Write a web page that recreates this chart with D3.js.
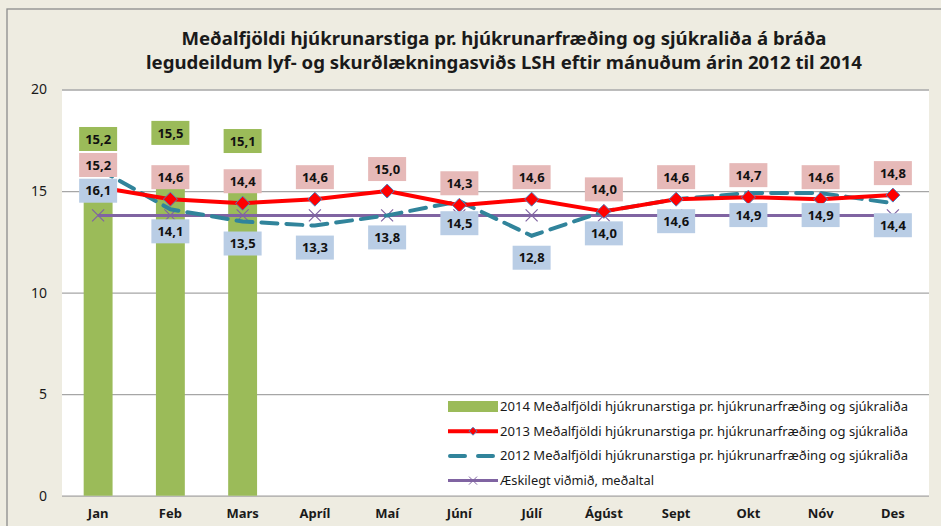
<!DOCTYPE html>
<html>
<head>
<meta charset="utf-8">
<script src="https://cdn.jsdelivr.net/npm/d3@7"></script>
<style>
  body { margin: 0; background: #EEECE1; }
  svg { display: block; font-family: "Noto Sans", "DejaVu Sans", sans-serif; }
</style>
</head>
<body>
<div id="chart"></div>
<script>
// Data
const months = ["Jan", "Feb", "Mars", "Apríl", "Maí", "Júní", "Júlí", "Ágúst", "Sept", "Okt", "Nóv", "Des"];
const values2014 = [15.2, 15.5, 15.1];
const values2013 = [15.2, 14.6, 14.4, 14.6, 15.0, 14.3, 14.6, 14.0, 14.6, 14.7, 14.6, 14.8];
const values2012 = [16.1, 14.1, 13.5, 13.3, 13.8, 14.5, 12.8, 14.0, 14.6, 14.9, 14.9, 14.4];
const target = [13.8, 13.8, 13.8, 13.8, 13.8, 13.8, 13.8, 13.8, 13.8, 13.8, 13.8, 13.8];
const yTicks = [0, 5, 10, 15, 20];
const titleLines = [
  "Meðalfjöldi hjúkrunarstiga pr. hjúkrunarfræðing og sjúkraliða á bráða",
  "legudeildum lyf- og skurðlækningasviðs LSH eftir mánuðum árin 2012 til 2014"
];
const legendLabels = [
  "2014 Meðalfjöldi hjúkrunarstiga pr. hjúkrunarfræðing og sjúkraliða",
  "2013 Meðalfjöldi hjúkrunarstiga pr. hjúkrunarfræðing og sjúkraliða",
  "2012 Meðalfjöldi hjúkrunarstiga pr. hjúkrunarfræðing og sjúkraliða",
  "Æskilegt viðmið, meðaltal"
];

const fmt = v => d3.format(".1f")(v).replace(".", ",");

const W = 941, H = 526;
const plot = { left: 62, right: 929, top: 89.5, bottom: 495.7 };

const svg = d3.select("#chart").append("svg")
  .attr("width", W)
  .attr("height", H);

// Chart frame
svg.append("rect")
  .attr("x", 7).attr("y", 9)
  .attr("width", W + 20).attr("height", H + 20)
  .attr("fill", "#EEECE1")
  .attr("stroke", "#8C8C8C")
  .attr("stroke-width", 1.3);

// Plot area
svg.append("rect")
  .attr("x", plot.left).attr("y", plot.top)
  .attr("width", plot.right - plot.left).attr("height", plot.bottom - plot.top)
  .attr("fill", "#fff");

// Title
svg.append("g").selectAll("text")
  .data(titleLines)
  .enter()
  .append("text")
  .attr("x", 504)
  .attr("y", (d, i) => 45 + i * 24)
  .attr("text-anchor", "middle")
  .attr("font-size", 18)
  .attr("font-weight", "bold")
  .attr("fill", "#1a1a1a")
  .attr("textLength", (d, i) => i === 0 ? 645 : 716)
  .attr("lengthAdjust", "spacingAndGlyphs")
  .text(d => d);

// Scales
const x = d3.scaleBand()
  .domain(months)
  .range([plot.left, plot.right])
  .padding(0);

const y = d3.scaleLinear()
  .domain([0, 20])
  .range([plot.bottom, plot.top]);

const cx = m => x(m) + x.bandwidth() / 2;

// Gridlines + y axis
const yAxis = svg.append("g")
  .attr("transform", `translate(${plot.left},0)`)
  .call(d3.axisLeft(y).tickValues(yTicks).tickSize(-(plot.right - plot.left)).tickPadding(15));
yAxis.select(".domain").remove();
yAxis.selectAll(".tick line")
  .attr("stroke", "#A6A6A6")
  .attr("stroke-width", 1.3);
yAxis.selectAll(".tick text")
  .attr("font-size", 14)
  .attr("fill", "#1a1a1a")
  .attr("font-family", "'Noto Sans', sans-serif");

// x axis labels
const xAxis = svg.append("g")
  .attr("transform", `translate(0,${plot.bottom})`)
  .call(d3.axisBottom(x).tickSize(0).tickPadding(13));
xAxis.select(".domain").remove();
xAxis.selectAll(".tick text")
  .attr("font-size", 13)
  .attr("font-weight", "bold")
  .attr("fill", "#1a1a1a")
  .attr("font-family", "'Noto Sans', sans-serif");

// Bars 2014
const barW = x.bandwidth() * 0.4;
svg.selectAll(".bar")
  .data(values2014)
  .enter()
  .append("rect")
  .attr("class", "bar")
  .attr("x", (d, i) => cx(months[i]) - barW / 2)
  .attr("y", d => y(d))
  .attr("width", barW)
  .attr("height", d => y(0) - y(d))
  .attr("fill", "#9BBB59");

// Target line
const line = d3.line()
  .x((d, i) => cx(months[i]))
  .y(d => y(d));

svg.append("path")
  .datum(target)
  .attr("fill", "none")
  .attr("stroke", "#8064A2")
  .attr("stroke-width", 3)
  .attr("d", line);

const xSize = 6;
svg.append("g").selectAll("path")
  .data(target)
  .enter()
  .append("path")
  .attr("d", (d, i) => {
    const px = cx(months[i]), py = y(d);
    return `M${px - xSize},${py - xSize}L${px + xSize},${py + xSize}M${px - xSize},${py + xSize}L${px + xSize},${py - xSize}`;
  })
  .attr("stroke", "#8064A2")
  .attr("stroke-width", 1.2)
  .attr("fill", "none");

// 2012 dashed line
svg.append("path")
  .datum(values2012)
  .attr("fill", "none")
  .attr("stroke", "#31849B")
  .attr("stroke-width", 4)
  .attr("stroke-dasharray", "16,9")
  .attr("stroke-linecap", "round")
  .attr("d", line);

// 2013 red line with diamonds
svg.append("path")
  .datum(values2013)
  .attr("fill", "none")
  .attr("stroke", "#FF0000")
  .attr("stroke-width", 4)
  .attr("stroke-linejoin", "round")
  .attr("d", line);

svg.append("g").selectAll("path")
  .data(values2013)
  .enter()
  .append("path")
  .attr("transform", (d, i) => `translate(${cx(months[i])},${y(d)})`)
  .attr("d", "M0,-7L7,0L0,7L-7,0Z")
  .attr("fill", "#FF0000")
  .attr("stroke", "#4F81BD")
  .attr("stroke-width", 1);

// Data labels
function drawLabels(values, fill, offset) {
  const g = svg.append("g").selectAll("g")
    .data(values)
    .enter()
    .append("g")
    .attr("transform", (d, i) => `translate(${cx(months[i])},${y(d) + offset})`);
  g.append("rect")
    .attr("x", -19).attr("y", -12)
    .attr("width", 38).attr("height", 24)
    .attr("fill", fill);
  g.append("text")
    .attr("text-anchor", "middle")
    .attr("dy", "0.36em")
    .attr("font-size", 13)
    .attr("font-weight", "bold")
    .attr("fill", "#111")
    .text(d => fmt(d));
}
drawLabels(values2014, "#9BBB59", -48);
drawLabels(values2013, "#E6B9B8", -22);
drawLabels(values2012, "#B9CDE5", 22);

// Legend
const legend = svg.append("g").attr("transform", "translate(448,406.5)");
const rowH = 24.7;
const rows = legend.selectAll("g")
  .data(legendLabels)
  .enter()
  .append("g")
  .attr("transform", (d, i) => `translate(0,${i * rowH})`);

rows.append("text")
  .attr("x", 52)
  .attr("dy", "0.35em")
  .attr("font-size", 13)
  .attr("fill", "#1a1a1a")
  .attr("textLength", (d, i) => i < 3 ? 408 : 154)
  .attr("lengthAdjust", "spacingAndGlyphs")
  .text(d => d);

// swatches
rows.filter((d, i) => i === 0).append("rect")
  .attr("x", 0).attr("y", -5.5).attr("width", 50).attr("height", 11)
  .attr("fill", "#9BBB59");
rows.filter((d, i) => i === 1).call(g => {
  g.append("line").attr("x1", 0).attr("x2", 50)
    .attr("stroke", "#FF0000").attr("stroke-width", 4);
  g.append("path").attr("transform", "translate(25,0)")
    .attr("d", "M0,-4L4,0L0,4L-4,0Z")
    .attr("fill", "#FF0000").attr("stroke", "#4F81BD").attr("stroke-width", 1);
});
rows.filter((d, i) => i === 2).append("line")
  .attr("x1", 2).attr("x2", 50)
  .attr("stroke", "#31849B").attr("stroke-width", 4)
  .attr("stroke-dasharray", "15,13")
  .attr("stroke-linecap", "round");
rows.filter((d, i) => i === 3).call(g => {
  g.append("line").attr("x1", 0).attr("x2", 50)
    .attr("stroke", "#8064A2").attr("stroke-width", 3);
  g.append("path")
    .attr("d", "M21,-4L29,4M21,4L29,-4")
    .attr("stroke", "#8064A2").attr("stroke-width", 1);
});
</script>
</body>
</html>
